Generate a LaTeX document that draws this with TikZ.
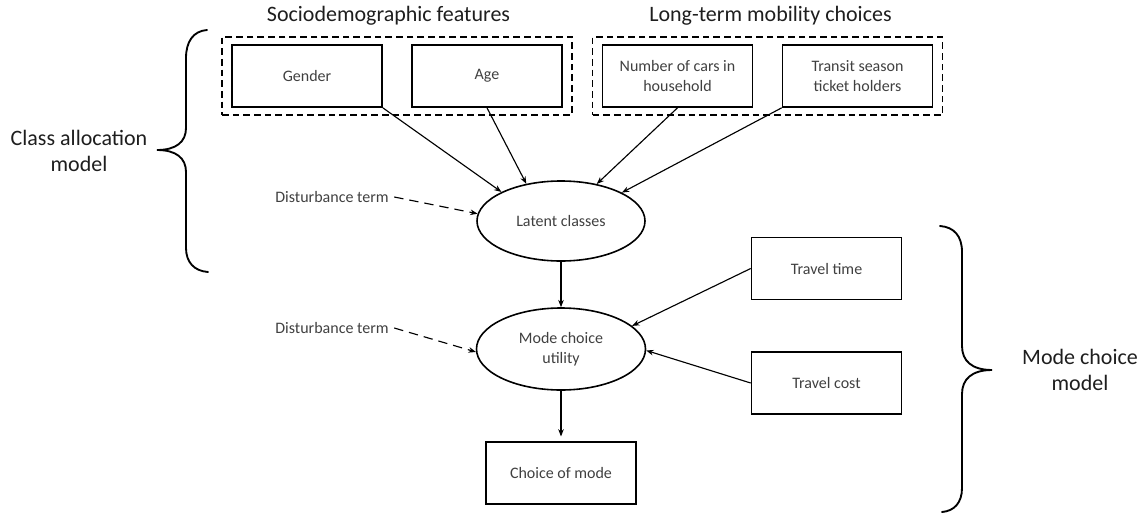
\documentclass[tikz,border=0pt]{standalone}
\usepackage{fontspec}
\setmainfont{Carlito}
\usetikzlibrary{arrows.meta,shapes.geometric,fit}
\definecolor{txt}{HTML}{404040}
\definecolor{ttl}{HTML}{1E1E1E}
\begin{document}
\begin{tikzpicture}[x=0.75pt,y=-0.75pt,
  box/.style={draw,line width=1.25pt,minimum width=112.5pt,minimum height=46.5pt,
    align=center,font=\fontsize{12}{15}\selectfont,text=txt,inner sep=2pt},
  ell/.style={draw,ellipse,line width=1.2pt,minimum width=126pt,minimum height=60pt,
    align=center,font=\fontsize{12}{15}\selectfont,text=txt,inner sep=0pt},
  grp/.style={draw,dashed,dash pattern=on 5pt off 3pt,line width=1.2pt,inner xsep=6.8pt,inner ysep=5.5pt},
  arr/.style={line width=0.85pt,-{Stealth[length=5.5pt,width=4.2pt]}},
  darr/.style={arr,dash pattern=on 7pt off 4.5pt},
  lbl/.style={font=\fontsize{12}{15}\selectfont,text=txt,inner sep=4pt},
  ttlsty/.style={font=\fontsize{16.5}{19.5}\selectfont,text=ttl,align=center,inner sep=0pt},
  brace/.style={line width=1.4pt,line cap=round}]
\useasboundingbox (0,0) rectangle (1141,514);

% titles
\node[ttlsty] (t1) at (388.5,16) {Sociodemographic features};
\node[ttlsty] (t2) at (770.5,16) {Long-term mobility choices};

% top boxes
\node[box] (gender) at (307,76) {Gender};
\node[box] (age) at (487,76) {Age};
\node[box] (cars) at (677.5,76) {Number of cars in\\household};
\node[box] (transit) at (857.5,76) {Transit season\\ticket holders};

\node[grp,fit=(gender)(age)] (g1) {};
\node[grp,fit=(cars)(transit)] (g2) {};

% ellipses
\node[ell] (latent) at (561,221) {Latent classes};
\node[ell,minimum width=126.75pt,minimum height=61.5pt] (mode) at (561,349) {Mode choice\\utility};

% right boxes
\node[box] (ttime) at (826.5,268.5) {Travel time};
\node[box] (tcost) at (826.5,383) {Travel cost};
\node[box] (choice) at (561,473) {Choice of mode};

% disturbance labels
\node[lbl] (d1) at (332,197) {Disturbance term};
\node[lbl] (d2) at (332,328) {Disturbance term};

% connectors
\draw[arr] (gender.south east) -- (latent.154);
\draw[arr] (age.south) -- (latent.133);
\draw[arr] (cars.south) -- (latent.46);
\draw[arr] (transit.south west) -- (latent.25);
\draw[darr] (d1.east) -- (latent.175);
\draw[arr] (latent.south) -- (mode.north);
\draw[darr] (d2.east) -- (mode.182);
\draw[arr] (ttime.west) -- (mode.18);
\draw[arr] (tcost.west) -- (mode.-1);
\draw[arr,shorten >=3.5pt] (mode.south) -- (choice.north);

% braces
\draw[brace] (207,30) .. controls (193,31) and (186,42) .. (186,58) -- (186,128)
  .. controls (186,142) and (176,150) .. (157,150)
  .. controls (176,150) and (186,158) .. (186,172) -- (186,248)
  .. controls (186,262) and (194,271) .. (208,272);
\draw[brace] (940,226) .. controls (954,227) and (962,236) .. (962,252) -- (962,346)
  .. controls (962,361) and (972,370) .. (992,370)
  .. controls (972,370) and (962,379) .. (962,394) -- (962,488)
  .. controls (962,503) and (954,511) .. (942,512);

\node[ttlsty] (cam) at (79,151) {Class allocation\\model};
\node[ttlsty] (mcm) at (1080,370) {Mode choice\\model};
\end{tikzpicture}
\end{document}
